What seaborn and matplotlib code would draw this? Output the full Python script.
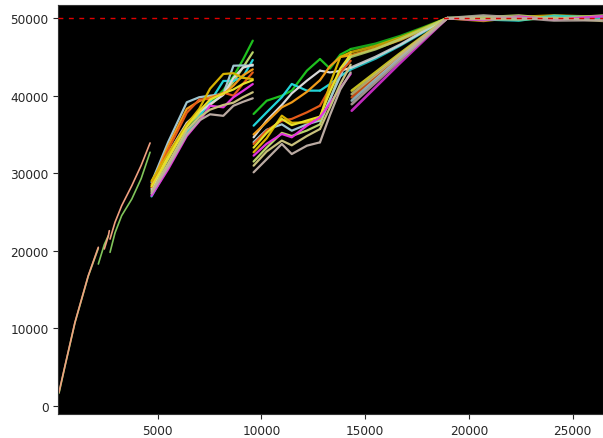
import numpy as np
import pandas as pd
import matplotlib
matplotlib.use("Agg")
import matplotlib.pyplot as plt
import seaborn as sns

# ---------------- data ----------------
run_colors = {
    "salmon": "#f0a080", "lightgreen": "#80c45a",
    "green": "#1ec01e", "yellowgreen": "#b8d468", "cyan": "#22d4d8",
    "lightblue": "#9fc6d0", "white": "#d9d9d9", "orange": "#f09a18",
    "redorange": "#e45a18", "gold": "#d6b200", "yellow": "#e6e028",
    "magenta": "#e232de", "khaki": "#c8c07c", "rosygray": "#baaaa2",
}

x_A = [240, 530, 1010, 1650, 2136]
seg_A = {"lightgreen": [1600, 5100, 10700, 16700, 20300],
         "salmon": [1730, 5160, 10760, 16770, 20440]}

x_B = [2136, 2425, 2618, 2666]
seg_B = {"lightgreen": [18280, 20800, 21940, np.nan],
         "salmon": [np.nan, 20220, 21900, 22580]}

x_C = [2700, 2940, 3260, 3750, 4200, 4630]
seg_C = {"lightgreen": [19790, 22300, 24520, 26670, 29300, 32700],
         "salmon": [21500, 23660, 25800, 28390, 31000, 33900]}

x_D = [4700, 5500, 6400, 7000, 7520, 8160, 8650, 9100, 9580]
seg_D = {
    "green":       [27300, 31000, 35500, 37500, 39000, 40700, 42500, 44600, 47100],
    "yellowgreen": [27800, 31800, 36200, 37600, 38800, 40200, 41800, 43600, 45600],
    "cyan":        [27000, 30800, 35300, 37300, 39200, 41900, 41900, 42400, 44600],
    "lightblue":   [28800, 34000, 39150, 39800, 40000, 40220, 43870, 43900, 43870],
    "white":       [28000, 32500, 36500, 37900, 38900, 40100, 42300, 43600, 44000],
    "orange":      [28500, 33500, 38300, 39300, 39800, 40200, 41300, 42600, 43400],
    "redorange":   [28200, 33000, 37800, 39500, 39600, 40400, 40000, 41500, 43000],
    "gold":        [29000, 32500, 36300, 38300, 40900, 42800, 42900, 42300, 42150],
    "yellow":      [28300, 32000, 36000, 38000, 39500, 40300, 40800, 41500, 42000],
    "magenta":     [27100, 30500, 34800, 36700, 38700, 38500, 39800, 40600, 41500],
    "khaki":       [27600, 31200, 35600, 37200, 38200, 38800, 39100, 39800, 40440],
    "rosygray":    [27400, 30800, 35000, 36800, 37600, 37400, 38700, 39200, 39660],
}

x_E = [9620, 10250, 10980, 11460, 12190, 12820]
seg_E = {
    "green":       [37640, 39350, 40000, 40650, 43230, 44730],
    "cyan":        [36130, 37850, 39800, 41510, 40650, 40650],
    "white":       [34630, 36800, 38800, 40300, 41940, 43230],
    "orange":      [35000, 36600, 38500, 39140, 40500, 42000],
    "lightblue":   [34000, 35600, 36300, 35480, 36300, 36800],
    "redorange":   [33770, 35500, 36770, 37000, 37850, 38710],
    "gold":        [32700, 34500, 37420, 36500, 36560, 37000],
    "yellow":      [33300, 35200, 37000, 36200, 36800, 37300],
    "magenta":     [32260, 33800, 35060, 34630, 36130, 37210],
    "khaki":       [30970, 32800, 34200, 33600, 34800, 35700],
    "rosygray":    [30110, 31800, 33770, 32470, 33550, 33980],
    "yellowgreen": [31500, 33300, 35200, 34800, 35500, 36300],
}

x_F = [12820, 13300, 13800, 14300]
seg_F = {
    "green":       [44730, 43500, 45300, 46000],
    "cyan":        [40650, 41500, 42500, 43400],
    "white":       [43230, 43000, 43200, 43600],
    "orange":      [42000, 43800, 45000, 45200],
    "lightblue":   [36800, 39500, 42500, 45600],
    "redorange":   [38710, 41000, 43000, 44500],
    "gold":        [37000, 41500, 45000, 45600],
    "yellow":      [37300, 40500, 43500, 45300],
    "magenta":     [37210, 39000, 41000, 42800],
    "khaki":       [35700, 38500, 41500, 44000],
    "rosygray":    [33980, 37500, 40800, 43000],
    "yellowgreen": [36300, 39500, 43000, 45000],
}

x_G = [14300, 15500, 16700, 17800, 18950]
seg_G = {
    "green":       [46000, 46700, 47700, 48800, 50000],
    "gold":        [45600, 46400, 47500, 48700, 50000],
    "orange":      [45200, 46100, 47200, 48500, 50000],
    "cyan":        [43400, 44800, 46500, 48200, 50000],
    "white":       [43600, 45000, 46600, 48300, 50000],
    "yellowgreen": [45000, 46000, 47300, 48600, 50000],
}

x_H = [14350, 16600, 18950]
seg_H = {
    "yellow":    [40650, 45300, 50000],
    "redorange": [39790, 44900, 50000],
    "lightblue": [39360, 44700, 50000],
    "magenta":   [38060, 44000, 50000],
    "khaki":     [40200, 45100, 50000],
    "rosygray":  [38900, 44400, 50000],
}

x_P = [18950, 20700, 22400, 24100, 26460]
seg_P = {
    "green":       [50000, 50250, 49750, 50150, 49850],
    "magenta":     [50000, 49750, 50200, 49800, 50250],
    "cyan":        [50000, 49850, 49700, 50300, 50050],
    "rosygray":    [50000, 50350, 50050, 49700, 49750],
    "gold":        [50000, 49650, 50150, 50350, 50150],
    "yellowgreen": [50000, 50100, 50350, 49900, 50350],
    "khaki":       [50000, 49900, 49850, 50050, 49650],
}

goal_y = 50000

# ---------------- build long tables ----------------
def long_table(parts):
    rows = []
    for seg_name, xs, seg in parts:
        for run, ys in seg.items():
            for xv, yv in zip(xs, ys):
                rows.append({"x": xv, "y": yv, "run": run, "seg": seg_name})
    return pd.DataFrame(rows).dropna()

df_early = long_table([("A", x_A, seg_A), ("B", x_B, seg_B), ("C", x_C, seg_C)])
df_mid = long_table([("D", x_D, seg_D), ("E", x_E, seg_E), ("F", x_F, seg_F)])
df_late = long_table([("G", x_G, seg_G), ("H", x_H, seg_H), ("P", x_P, seg_P)])

# ---------------- plot ----------------
sns.set_style("ticks")
plt.rcParams["font.family"] = ["DejaVu Sans"]

fig = plt.figure(figsize=(6.03, 4.39), dpi=100)
ax = fig.add_axes([58.3 / 603, 1 - 415 / 439, 1 - 58.3 / 603, (415 - 6) / 439])
ax.set_facecolor("black")

common = dict(x="x", y="y", hue="run", units="seg", estimator=None,
              palette=run_colors, legend=False, sort=False, ax=ax)
sns.lineplot(data=df_early, linewidth=1.2, **common)
sns.lineplot(data=df_mid, linewidth=1.6, **common)
sns.lineplot(data=df_late, linewidth=1.9, alpha=0.85, **common)

ax.axhline(goal_y, color="#e00000", linewidth=1.0, dashes=(3.5, 4.0), zorder=5)

ax.set_xlim(207, 26461)
ax.set_ylim(-1070, 51700)
ax.set_xticks([5000, 10000, 15000, 20000, 25000])
ax.set_yticks([0, 10000, 20000, 30000, 40000, 50000])
ax.set_xlabel("")
ax.set_ylabel("")
ax.tick_params(labelsize=8.7, colors="#262626", length=3.5, width=0.8)
for s in ax.spines.values():
    s.set_color("#333333")

fig.savefig("out.png", dpi=100)
